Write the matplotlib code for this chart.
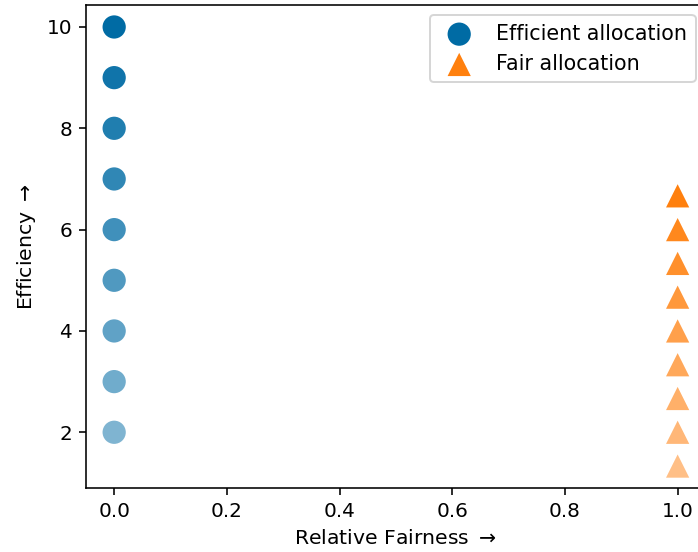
import matplotlib
matplotlib.use("Agg")
import matplotlib.pyplot as plt
from matplotlib.colors import to_rgba

# Efficient allocation points (fairness, efficiency)
eff_x = [0, 0, 0, 0, 0, 0, 0, 0, 0]
eff_y = [2, 3, 4, 5, 6, 7, 8, 9, 10]

# Fair allocation points
fair_x = [1, 1, 1, 1, 1, 1, 1, 1, 1]
fair_y = [1.333, 2.0, 2.667, 3.333, 4.0, 4.667, 5.333, 6.0, 6.667]

# opacity ramps from light (bottom) to solid (top)
alphas = [0.5, 0.5625, 0.625, 0.6875, 0.75, 0.8125, 0.875, 0.9375, 1.0]

blue = "#006BA4"
orange = "#FF800E"

blue_cols = [to_rgba(blue, a) for a in alphas]
orange_cols = [to_rgba(orange, a) for a in alphas]

dpi = 144
fig = plt.figure(figsize=(698 / dpi, 552 / dpi), dpi=dpi)
ax = fig.add_axes([0.1232, 0.1159, 0.888, 0.875])

ax.scatter(eff_x, eff_y, s=135, marker="o", c=blue_cols,
           edgecolors="none", label="Efficient allocation")
ax.scatter(fair_x, fair_y, s=135, marker="^", c=orange_cols,
           edgecolors="none", label="Fair allocation")

ax.set_xlabel(r"Relative Fairness $\rightarrow$", fontsize=10.2)
ax.set_ylabel(r"Efficiency $\rightarrow$", fontsize=10.2)
ax.set_yticks([2, 4, 6, 8, 10])

leg = ax.legend(loc="upper right", fontsize=10.3)
leg.legend_handles[0].set_facecolor(blue)
leg.legend_handles[1].set_facecolor(orange)

fig.savefig("out.png", dpi=dpi)
